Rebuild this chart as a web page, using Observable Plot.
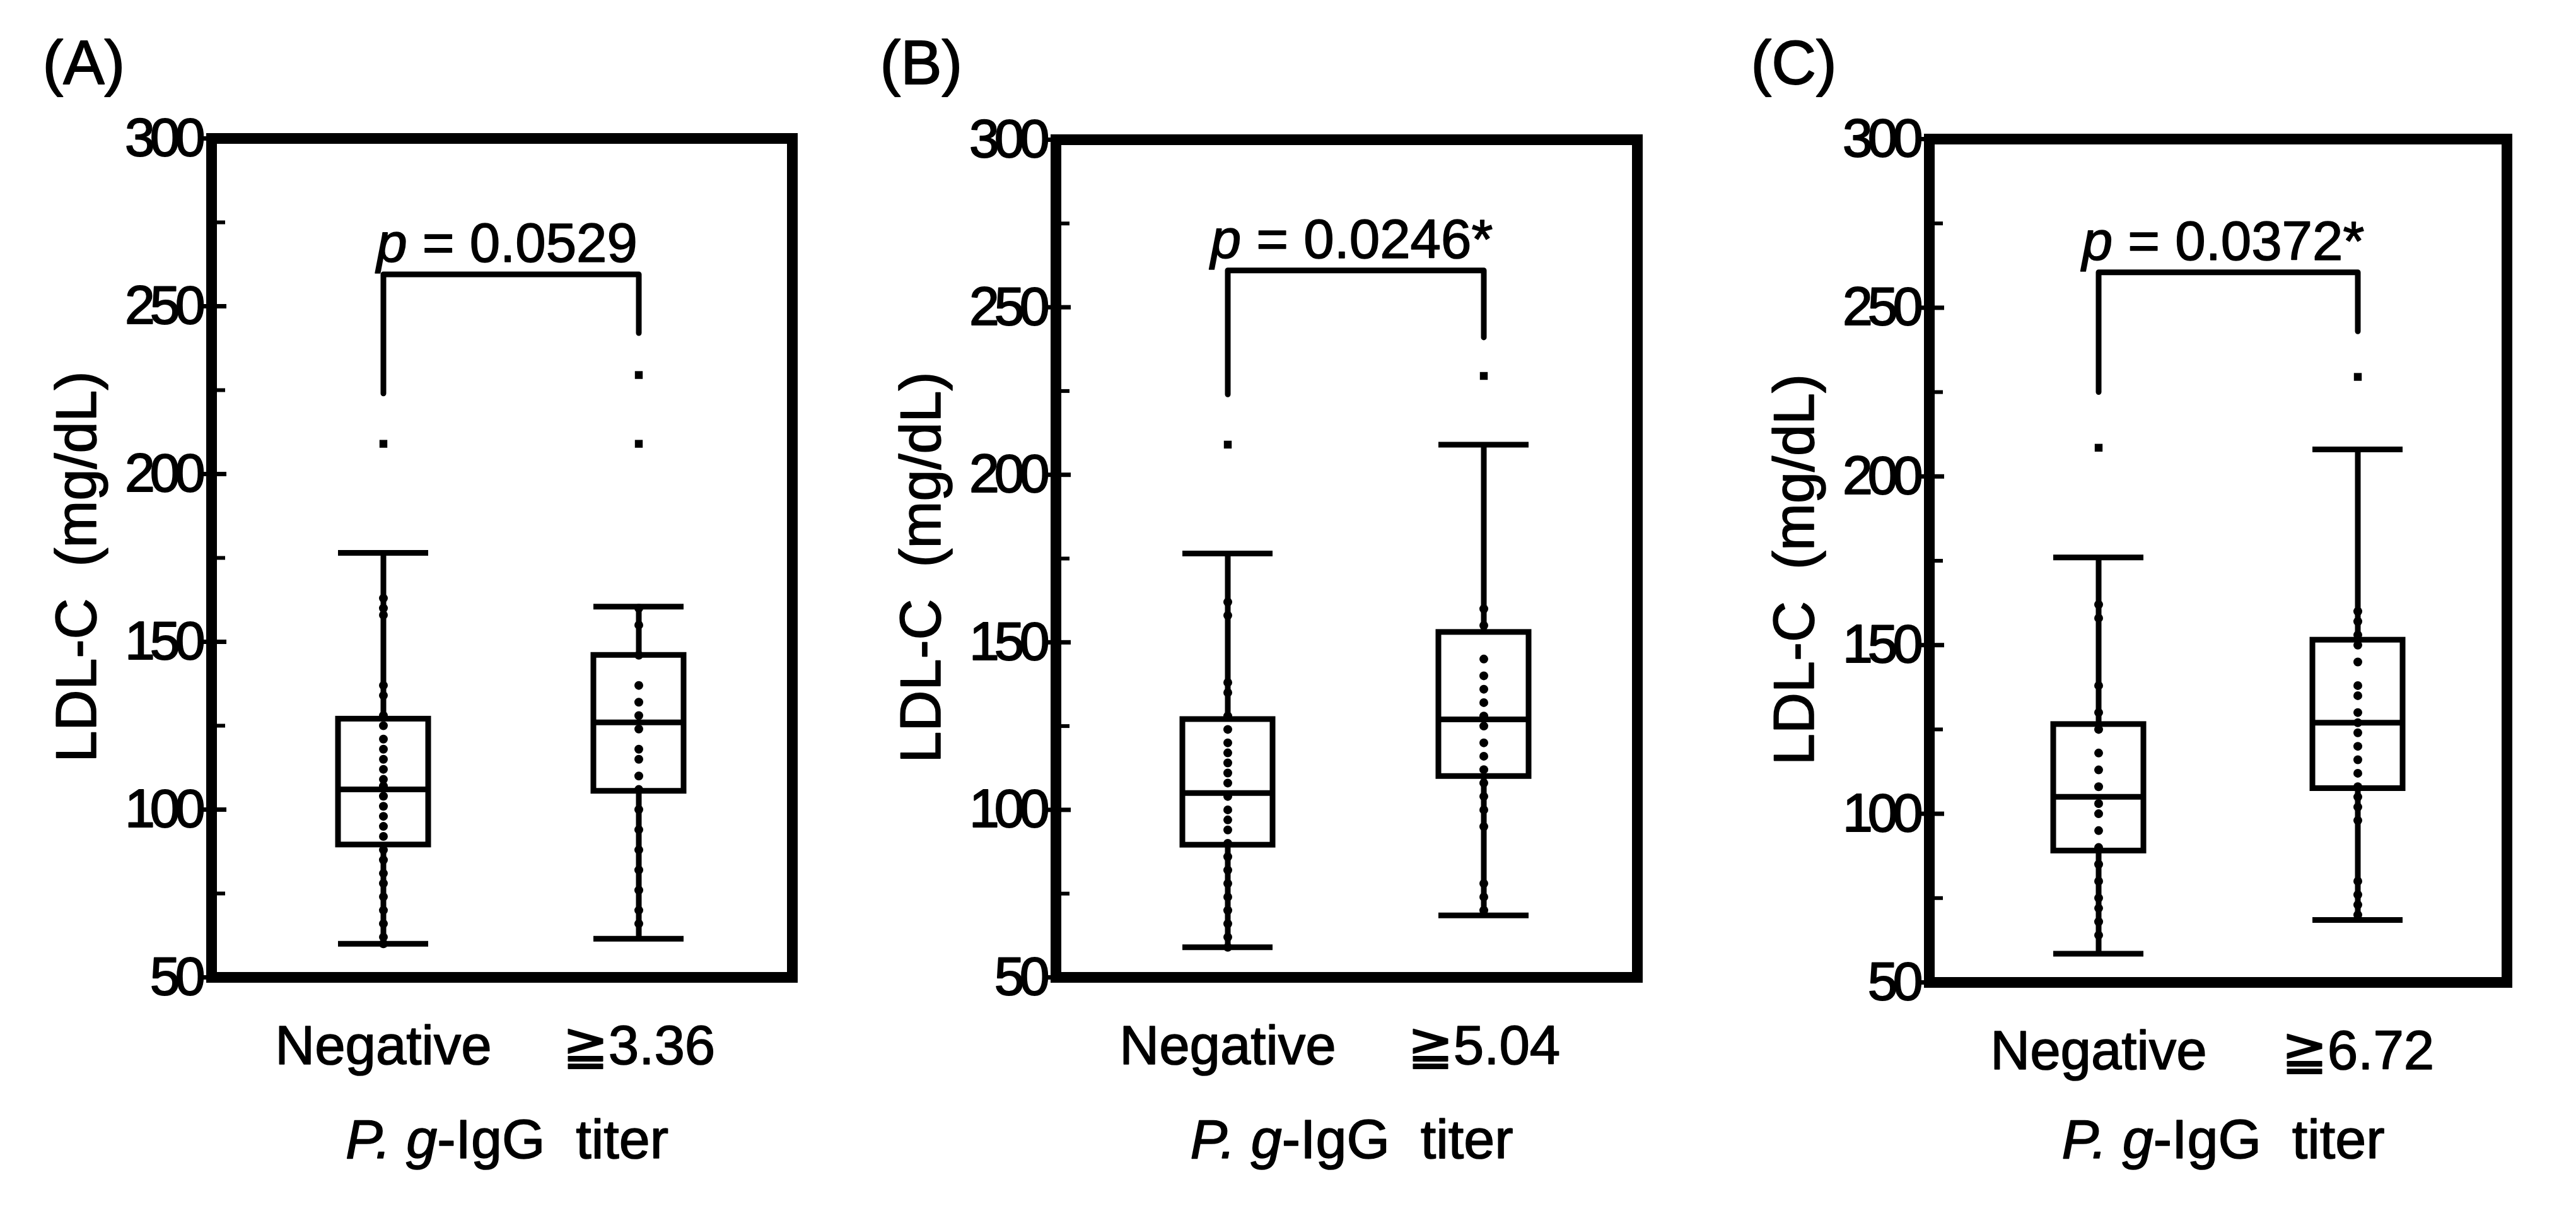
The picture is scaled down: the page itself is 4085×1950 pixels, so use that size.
<!DOCTYPE html>
<html>
<head>
<meta charset="utf-8">
<script src="https://cdn.jsdelivr.net/npm/d3@7"></script>
<script src="https://cdn.jsdelivr.net/npm/@observablehq/plot@0.6"></script>
<style>
  body { margin: 0; background: #fff; }
  #chart { display: flex; width: 4085px; height: 1950px; background: #fff; }
  #chart svg { flex: none; }
</style>
</head>
<body>
<div id="chart"></div>
<script>
// ---------- data ----------
const panelLabels = ["(A)", "(B)", "(C)"];
const groupNames = [["Negative", "≧3.36"], ["Negative", "≧5.04"], ["Negative", "≧6.72"]];
const pValues = ["_p_ = 0.0529", "_p_ = 0.0246*", "_p_ = 0.0372*"];
const yTitle = "LDL-C\u00a0 (mg/dL)";
const xTitle = "_P._ _g_-IgG\u00a0 titer";
const yTicks = [50, 100, 150, 200, 250, 300];
const yMinorTicks = [75, 125, 175, 225, 275];

// box statistics per group: [lower whisker, Q1, median, Q3, upper whisker]
const statsA = [[60, 89.5, 106, 127, 176.5], [61.5, 105.5, 126, 146, 160.5]];
const statsB = [[59, 89.5, 105, 127, 176.5], [68.5, 110, 127, 153, 209]];
const statsC = [[58.5, 89, 105, 126.5, 176], [68.5, 107.5, 127, 151.5, 208]];

// outliers per group
const outliersA = [[209], [209, 229.5]];
const outliersB = [[209], [229.5]];
const outliersC = [[208.5], [229.5]];

// individual points visible along each group
const pointsA = [
  [163, 160, 158, 137, 134, 128, 125, 121, 118, 115, 112, 109, 107, 104, 101, 98, 95, 92, 88, 85, 81, 78, 74, 70, 66, 62, 60],
  [160, 155, 146, 137, 132, 128, 124, 118, 115, 110, 106, 100, 94, 88, 82, 76, 70, 66]
];
const pointsB = [
  [162, 158, 138, 135, 128, 124, 120, 117, 114, 111, 108, 104, 100, 97, 94, 90, 86, 82, 78, 74, 70, 66, 62, 59],
  [160, 155, 145, 140, 136, 132, 128, 125, 120, 116, 112, 108, 104, 100, 95, 78, 74, 70]
];
const pointsC = [
  [162, 158, 138, 130, 125, 118, 113, 108, 103, 100, 95, 90, 85, 80, 75, 72, 68, 64],
  [160, 157, 153, 150, 145, 138, 135, 130, 127, 124, 120, 116, 112, 108, 105, 102, 98, 80, 76, 73, 70]
];

// significance bracket: [left leg bottom, bracket top, right leg bottom]
const bracketA = [224, 259.5, 242];
const bracketB = [224, 261, 241];
const bracketC = [225, 260.5, 243];

// ---------- layout (pixels) ----------
const FONT = "'Liberation Sans', Arial, Helvetica, sans-serif";
function hasFont(name) {
  const c = document.createElement("canvas").getContext("2d");
  c.font = "72px monospace";
  const a = c.measureText("300 Negative").width;
  c.font = `72px '${name}', monospace`;
  const b = c.measureText("300 Negative").width;
  return Math.abs(a - b) > 0.5;
}
const NARROW = hasFont("Liberation Sans Narrow");
const TICK_FONT = NARROW ? "'Liberation Sans Narrow', 'Liberation Sans', Arial, sans-serif" : FONT;

const layout = [
  {ox: 0,    w: 1340, left: 335,  top: 219, right: 1256, bottom: 1549, c: [607, 1012],  labelDx: -268},
  {ox: 1340, w: 1380, left: 1674, top: 221, right: 2596, bottom: 1549, c: [1946, 2352], labelDx: -279},
  {ox: 2720, w: 1365, left: 3059, top: 220, right: 3975, bottom: 1557, c: [3327, 3738], labelDx: -283}
];
const boxWidth = 143;

const allStats = [statsA, statsB, statsC];
const allOutliers = [outliersA, outliersB, outliersC];
const allPoints = [pointsA, pointsB, pointsC];
const allBrackets = [bracketA, bracketB, bracketC];

function styleItalics(svg) {
  svg.querySelectorAll("text").forEach(t => {
    const s = t.textContent;
    if (!s.includes("_")) return;
    const parts = s.split("_");
    t.textContent = "";
    parts.forEach((p, k) => {
      if (!p) return;
      const ts = document.createElementNS("http://www.w3.org/2000/svg", "tspan");
      if (k % 2 === 1) ts.setAttribute("font-style", "italic");
      ts.textContent = p;
      t.appendChild(ts);
    });
  });
}

function panel(i) {
  const L = layout[i];
  const names = groupNames[i];
  const stats = allStats[i].map((s, j) => ({group: names[j], lo: s[0], q1: s[1], med: s[2], q3: s[3], hi: s[4]}));
  const outliers = allOutliers[i].flatMap((vals, j) => vals.map(v => ({group: names[j], v})));
  const points = allPoints[i].flatMap((vals, j) => vals.map(v => ({group: names[j], v})));
  const br = allBrackets[i];
  const bracket = [
    {group: names[0], v: br[0]}, {group: names[0], v: br[1]},
    {group: names[1], v: br[1]}, {group: names[1], v: br[2]}
  ];
  const c0 = L.c[0] - L.ox, c1 = L.c[1] - L.ox, step = c1 - c0;
  const lw = 9;

  const svg = Plot.plot({
    width: L.w,
    height: 1950,
    marginLeft: L.left - L.ox,
    marginRight: L.ox + L.w - L.right,
    marginTop: L.top,
    marginBottom: 1950 - L.bottom,
    style: {background: "transparent", fontFamily: FONT, color: "black", overflow: "visible"},
    x: {type: "band", domain: names, range: [c0 - boxWidth / 2, c1 + boxWidth / 2],
        paddingInner: 1 - boxWidth / step, paddingOuter: 0, align: 0.5},
    y: {domain: [50, 300]},
    marks: [
      // axes
      Plot.axisY({ticks: yTicks, tickSize: 0, tickPadding: 18, fontSize: 86, fontFamily: TICK_FONT, label: null,
                  textStroke: "black", textStrokeWidth: 2, textStrokeOpacity: 1}),
      Plot.axisY({ticks: yTicks, tickSize: -24, fill: "none", strokeWidth: 7, label: null}),
      Plot.axisY({ticks: yTicks, tickSize: 12, fill: "none", strokeWidth: 7, label: null}),
      Plot.axisY({ticks: yMinorTicks, tickSize: -22, fill: "none", strokeWidth: 6, label: null}),
      Plot.axisX({tickSize: 0, tickPadding: 76, fontSize: 87, label: null,
                  textStroke: "black", textStrokeWidth: 1.6, textStrokeOpacity: 1}),
      // whiskers
      Plot.ruleX(stats, {x: "group", y1: "lo", y2: "q1", strokeWidth: lw}),
      Plot.ruleX(stats, {x: "group", y1: "q3", y2: "hi", strokeWidth: lw}),
      Plot.tickY(stats, {x: "group", y: "lo", strokeWidth: lw}),
      Plot.tickY(stats, {x: "group", y: "hi", strokeWidth: lw}),
      // boxes
      Plot.barY(stats, {x: "group", y1: "q1", y2: "q3", fill: "white", stroke: "black", strokeWidth: lw}),
      Plot.tickY(stats, {x: "group", y: "med", strokeWidth: lw}),
      // points
      Plot.dot(points, {x: "group", y: "v", r: 7, fill: "black", stroke: "none"}),
      Plot.dot(outliers, {x: "group", y: "v", r: 7, symbol: "square", fill: "black", stroke: "none"}),
      // significance bracket
      Plot.line(bracket, {x: "group", y: "v", stroke: "black", strokeWidth: lw, strokeLinejoin: "round", curve: "linear"}),
      Plot.text([{v: br[1], t: pValues[i]}], {y: "v", text: "t", frameAnchor: "middle", textAnchor: "middle", dx: 8, dy: -20,
                  lineAnchor: "bottom", fontSize: 87, fill: "black", stroke: "black", strokeWidth: 1.6}),
      // frame
      Plot.frame({stroke: "black", strokeWidth: 17}),
      // titles
      Plot.text([yTitle], {frameAnchor: "left", textAnchor: "middle", lineAnchor: "middle", dx: -212, dy: 14, rotate: -90, fontSize: 90,
                  fill: "black", stroke: "black", strokeWidth: 1.6}),
      Plot.text([xTitle], {frameAnchor: "bottom", textAnchor: "middle", dx: 8, dy: 1835 - L.bottom, lineAnchor: "bottom",
                  fontSize: 88, fill: "black", stroke: "black", strokeWidth: 1.6}),
      Plot.text([panelLabels[i]], {frameAnchor: "top-left", dx: L.labelDx, dy: 132 - L.top,
                  textAnchor: "start", lineAnchor: "bottom", fontSize: 98, fill: "black", stroke: "black", strokeWidth: 1.8})
    ]
  });
  styleItalics(svg);
  if (!NARROW) {
    svg.querySelectorAll('g[aria-label="y-axis tick label"] text').forEach(t => {
      t.style.letterSpacing = "-8px";
    });
  }
  return svg;
}

const chart = document.getElementById("chart");
for (let i = 0; i < 3; i++) chart.appendChild(panel(i));
</script>
</body>
</html>
